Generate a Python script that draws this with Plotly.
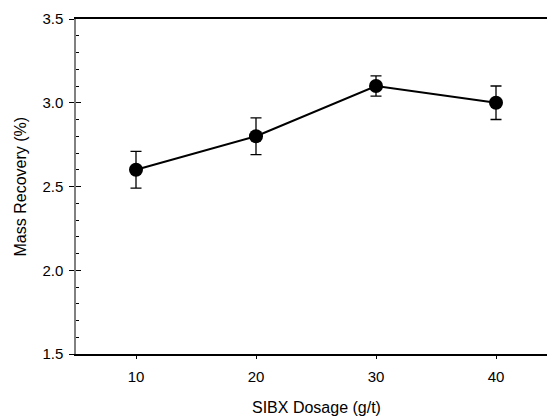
import plotly.graph_objects as go

dosage = [10, 20, 30, 40]
recovery = [2.60, 2.80, 3.10, 3.00]
err = [0.11, 0.11, 0.06, 0.10]
x_title = "SIBX Dosage (g/t)"
y_title = "Mass Recovery (%)"

font = "Liberation Sans, Arial, sans-serif"

fig = go.Figure()
fig.add_trace(go.Scatter(
    x=dosage, y=recovery, mode="lines+markers",
    line=dict(color="black", width=2),
    marker=dict(color="black", size=14),
    error_y=dict(type="data", array=err, color="black", thickness=1.3, width=5.5),
    showlegend=False,
))
# invisible trace for overlay axis (inner ticks)
fig.add_trace(go.Scatter(x=[dosage[0]], y=[recovery[0]], yaxis="y2", mode="markers",
                         marker=dict(opacity=0), showlegend=False, hoverinfo="skip"))

fig.update_layout(
    width=547, height=417,
    margin=dict(l=76, r=0, t=19, b=63),
    paper_bgcolor="white", plot_bgcolor="white",
    font=dict(family=font, size=15, color="black"),
    xaxis=dict(
        range=[5, 44.25], tickvals=dosage, ticks="outside", ticklen=3, tickwidth=1,
        tickcolor="black", showline=True, linecolor="black", linewidth=1.5,
        mirror=True, showgrid=False, zeroline=False,
        tickfont=dict(size=15), ticklabelstandoff=5,
    ),
    yaxis=dict(
        range=[1.5, 3.5], dtick=0.5, tickformat=".1f", ticks="outside", ticklen=5,
        tickwidth=1, tickcolor="black", showline=True, linecolor="#808080",
        linewidth=1.5, showgrid=False, zeroline=False,
        tickfont=dict(size=15), ticklabelstandoff=3,
    ),
    yaxis2=dict(
        range=[1.5, 3.5], overlaying="y", side="left", dtick=0.5, ticks="inside",
        ticklen=5, tickwidth=1, tickcolor="black", showticklabels=False,
        showline=False, showgrid=False, zeroline=False,
        minor=dict(dtick=0.1, ticks="inside", ticklen=3, tickwidth=1, tickcolor="black"),
    ),
    annotations=[
        dict(text=x_title, x=25, xref="x", y=-0.16, yref="paper", showarrow=False,
             xanchor="center", yanchor="middle", font=dict(size=16)),
        dict(text=y_title, x=-0.1168, xref="paper", y=0.5, yref="paper", showarrow=False,
             textangle=-90, xanchor="center", yanchor="middle", font=dict(size=16)),
    ],
)

fig.write_html("out.html")
